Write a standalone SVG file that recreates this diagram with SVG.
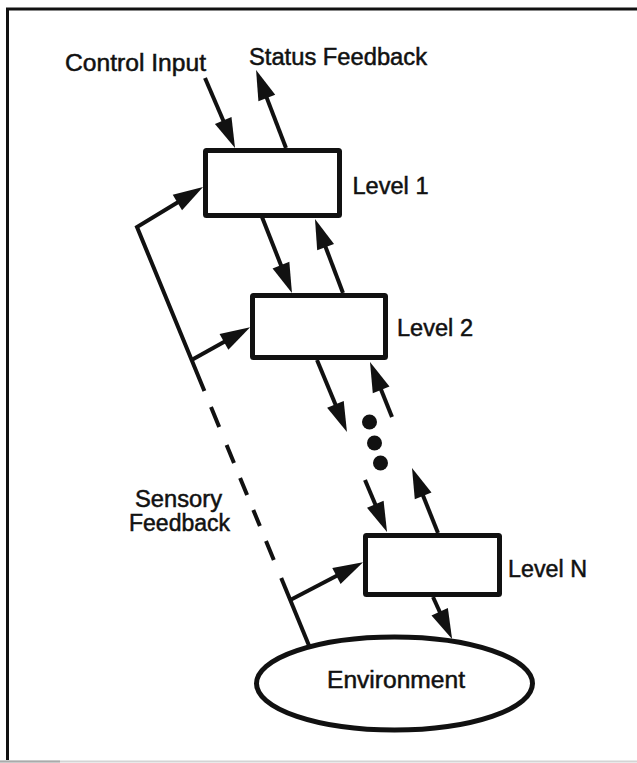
<svg xmlns="http://www.w3.org/2000/svg" width="637" height="763" viewBox="0 0 637 763">
  <style>
    .frame { stroke: #111; stroke-width: 3; fill: none; }
    .box { fill: #fff; stroke: #111; stroke-width: 5; }
    .env { fill: #fff; stroke: #111; stroke-width: 5; }
    .wire { fill: none; stroke: #111; stroke-width: 4; stroke-linejoin: miter; }
    .arrow { marker-end: url(#head); }
    .dot { fill: #111; }
    text { font-family: "Liberation Sans", Arial, Helvetica, sans-serif; font-size: 23px; fill: #111; stroke: #111; stroke-width: 0.5px; }
  </style>
  <defs>
    <marker id="head" markerUnits="userSpaceOnUse" markerWidth="30" markerHeight="18" refX="2" refY="9" orient="auto" overflow="visible">
      <path d="M0,0 L30,9 L0,18 z" fill="#111"/>
    </marker>
  </defs>

  <rect width="637" height="763" fill="#fff"/>

  <!-- page frame: top rule, left rule and faint bottom edge -->
  <g id="frame">
    <path class="frame" d="M7.5,760 L7.5,9 L637,9"/>
    <path d="M0,761.5 L637,761.5" stroke="#d4d4d4" stroke-width="2"/>
    <path d="M0,761.5 L60,761.5" stroke="#aaa" stroke-width="2"/>
  </g>

  <!-- connectors -->
  <g id="connectors">
    <!-- control input / status feedback at the top -->
    <path class="wire arrow" d="M205,78 L224,122.3"/>
    <path class="wire arrow" d="M286,148 L266.1,96.1"/>
    <!-- between level 1 and level 2 -->
    <path class="wire arrow" d="M262,217 L281.7,267"/>
    <path class="wire arrow" d="M343,293 L324.9,245.2"/>
    <!-- below level 2 -->
    <path class="wire arrow" d="M317,360 L336.2,406.2"/>
    <path class="wire arrow" d="M392,417 L380.4,388"/>
    <!-- above level N -->
    <path class="wire arrow" d="M365,480 L376.1,506.2"/>
    <path class="wire arrow" d="M438,533 L422.4,494"/>
    <!-- level N to environment -->
    <path class="wire arrow" d="M433,597 L440.5,613.5"/>

    <!-- sensory feedback trunk -->
    <path class="wire arrow" d="M204.4,391 L137,227 L179.1,201.5"/>
    <path class="wire" d="M211,407 L219.2,427 M226.6,445 L234,463 M240.1,478 L247.1,495 M253.3,510 L259.9,526 M266,541 L273.8,560"/>
    <path class="wire" d="M281.2,578 L310,648"/>
    <!-- sensory branches -->
    <path class="wire arrow" d="M191.6,360 L225.7,340.9"/>
    <path class="wire arrow" d="M290.3,600 L338.2,575.1"/>

    <!-- ellipsis between level 2 and level N -->
    <circle class="dot" cx="369.5" cy="422" r="7.5"/>
    <circle class="dot" cx="374.5" cy="443" r="7.5"/>
    <circle class="dot" cx="380.5" cy="463" r="7.5"/>
  </g>

  <g id="label-control-input">
    <text x="65" y="70.5" textLength="141" lengthAdjust="spacingAndGlyphs">Control Input</text>
  </g>
  <g id="label-status-feedback">
    <text x="249" y="65" textLength="178" lengthAdjust="spacingAndGlyphs">Status Feedback</text>
  </g>

  <g id="level-1">
    <rect class="box" x="205.5" y="150.5" width="134" height="65" rx="1"/>
    <text x="352.5" y="193.5" textLength="76" lengthAdjust="spacingAndGlyphs">Level 1</text>
  </g>

  <g id="level-2">
    <rect class="box" x="252.5" y="295.5" width="133" height="62" rx="1"/>
    <text x="397" y="335.5" textLength="76" lengthAdjust="spacingAndGlyphs">Level 2</text>
  </g>

  <g id="level-n">
    <rect class="box" x="365.5" y="535.5" width="134" height="59" rx="1"/>
    <text x="508" y="577" textLength="79" lengthAdjust="spacingAndGlyphs">Level N</text>
  </g>

  <g id="label-sensory-feedback">
    <text x="135" y="507" textLength="87" lengthAdjust="spacingAndGlyphs">Sensory</text>
    <text x="129" y="531" textLength="101" lengthAdjust="spacingAndGlyphs">Feedback</text>
  </g>

  <g id="environment">
    <ellipse class="env" cx="394.5" cy="683.5" rx="138" ry="46.5"/>
    <text x="327" y="688" textLength="138" lengthAdjust="spacingAndGlyphs">Environment</text>
  </g>
</svg>
